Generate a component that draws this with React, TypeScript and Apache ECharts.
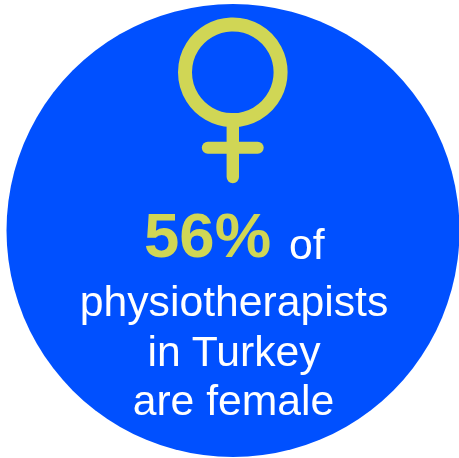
import React, { useEffect, useRef } from "react";
import * as echarts from "echarts";

const percentText = "56%";
const ofText = "of";
const lines = ["physiotherapists", "in Turkey", "are female"];
const BLUE = "#0050FF";
const LIME = "#D0D655";
const FONT = '"Liberation Sans", Arial, sans-serif';

export default function App() {
  const ref = useRef<HTMLDivElement>(null);
  useEffect(() => {
    const chart = echarts.init(ref.current!, null, { renderer: "svg" });
    chart.setOption({
      animation: false,
      graphic: [
        { type: "circle", shape: { cx: 233, cy: 230.5, r: 226.5 }, style: { fill: BLUE } },
        { type: "circle", shape: { cx: 232.8, cy: 72.3, r: 47.8 }, style: { fill: "none", stroke: LIME, lineWidth: 14 } },
        { type: "line", shape: { x1: 232.8, y1: 122, x2: 232.8, y2: 177 }, style: { stroke: LIME, lineWidth: 12.4, lineCap: "round" } },
        { type: "line", shape: { x1: 207.8, y1: 147.7, x2: 257.7, y2: 147.7 }, style: { stroke: LIME, lineWidth: 12, lineCap: "round" } },
        { type: "text", x: 144, y: 235, style: { text: percentText, fill: LIME, font: `bold 63.5px ${FONT}`, textAlign: "left", textVerticalAlign: "middle" } },
        { type: "text", x: 289, y: 244, style: { text: ofText, fill: "#fff", font: `42.7px ${FONT}`, textAlign: "left", textVerticalAlign: "middle" } },
        { type: "text", x: 234, y: 301, style: { text: lines[0], fill: "#fff", font: `42.7px ${FONT}`, textAlign: "center", textVerticalAlign: "middle" } },
        { type: "text", x: 234, y: 351, style: { text: lines[1], fill: "#fff", font: `42.7px ${FONT}`, textAlign: "center", textVerticalAlign: "middle" } },
        { type: "text", x: 233.5, y: 400, style: { text: lines[2], fill: "#fff", font: `42.7px ${FONT}`, textAlign: "center", textVerticalAlign: "middle" } },
      ],
    });
    return () => chart.dispose();
  }, []);
  return <div ref={ref} style={{ position: "fixed", left: 0, top: 0, width: 459, height: 458 }} />;
}
